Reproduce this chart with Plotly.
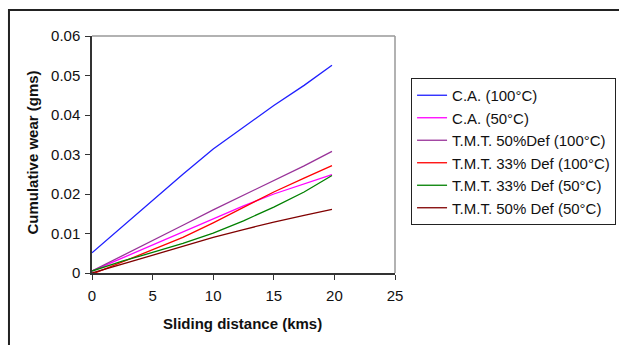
import plotly.graph_objects as go

# Sliding distance (kms)
distance = [0, 2.5, 5, 7.5, 10, 12.5, 15, 17.5, 19.8]

# Cumulative wear (gms)
ca_100 = [0.0051, 0.0118, 0.0183, 0.0250, 0.0314, 0.0370, 0.0424, 0.0475, 0.0526]
ca_50 = [0.0005, 0.0038, 0.0071, 0.0105, 0.0138, 0.0170, 0.0200, 0.0226, 0.0249]
tmt50_100 = [0.0005, 0.0043, 0.0082, 0.0121, 0.0160, 0.0197, 0.0233, 0.0271, 0.0308]
tmt33_100 = [-0.0003, 0.0028, 0.0057, 0.0090, 0.0127, 0.0166, 0.0205, 0.0240, 0.0272]
tmt33_50 = [0.0005, 0.0030, 0.0052, 0.0075, 0.0101, 0.0132, 0.0167, 0.0205, 0.0247]
tmt50_50 = [0.0000, 0.0023, 0.0045, 0.0068, 0.0090, 0.0110, 0.0129, 0.0146, 0.0161]

series_names = ["C.A. (100°C)", "C.A. (50°C)", "T.M.T. 50%Def (100°C)",
                "T.M.T. 33% Def (100°C)", "T.M.T. 33% Def (50°C)", "T.M.T. 50% Def (50°C)"]
series_values = [ca_100, ca_50, tmt50_100, tmt33_100, tmt33_50, tmt50_50]
series_colors = ["#1f1fff", "#ff00ff", "#993399", "#ff0000", "#008000", "#800000"]

x_ticks = [0, 5, 10, 15, 20, 25]
y_ticks = [0, 0.01, 0.02, 0.03, 0.04, 0.05, 0.06]
y_tick_text = ["0", "0.01", "0.02", "0.03", "0.04", "0.05", "0.06"]

FONT = "Liberation Sans, Arial, sans-serif"

fig = go.Figure()
for name, vals, col in zip(series_names, series_values, series_colors):
    fig.add_trace(go.Scatter(x=distance, y=vals, mode="lines", name=name,
                             line=dict(color=col, width=1.3)))

fig.update_layout(
    width=619, height=345,
    margin=dict(l=92, r=224, t=36, b=72, autoexpand=False),
    paper_bgcolor="white", plot_bgcolor="white",
    font=dict(family=FONT, size=15, color="#111111"),
    showlegend=True,
    legend=dict(x=1.053, y=0.8228, xanchor="left", yanchor="top",
                bordercolor="#222222", borderwidth=1, bgcolor="white",
                font=dict(family=FONT, size=15, color="#111111"),
                itemwidth=30, tracegroupgap=0),
    xaxis=dict(range=[0, 25], tickvals=x_ticks, showgrid=False, zeroline=False,
               showline=True, linecolor="#333333", linewidth=1.5,
               ticks="outside", ticklen=5, tickcolor="#333333",
               ticklabelstandoff=3, tickfont=dict(size=15)),
    yaxis=dict(range=[0, 0.06], tickvals=y_ticks, ticktext=y_tick_text,
               showgrid=False, zeroline=False,
               showline=True, linecolor="#333333", linewidth=1.5,
               ticks="outside", ticklen=5, tickcolor="#333333",
               ticklabelstandoff=2, tickfont=dict(size=15)),
    shapes=[
        dict(type="line", xref="paper", yref="paper", x0=0, x1=1, y0=1, y1=1,
             line=dict(color="#999999", width=1.5), layer="below"),
        dict(type="line", xref="paper", yref="paper", x0=1, x1=1, y0=0, y1=1,
             line=dict(color="#999999", width=1.5), layer="below"),
        dict(type="rect", xref="paper", yref="paper", x0=-0.274, x1=2.0, y0=-0.6, y1=1.1097,
             line=dict(color="#222222", width=2), fillcolor="rgba(0,0,0,0)"),
    ],
    annotations=[
        dict(text="<b>Sliding distance (kms)</b>", xref="paper", yref="paper",
             x=0.4967, y=-0.211, xanchor="center", yanchor="middle", showarrow=False,
             font=dict(family=FONT, size=15, color="#111111")),
        dict(text="<b>Cumulative wear (gms)</b>", xref="paper", yref="paper",
             x=-0.1947, y=0.508, xanchor="center", yanchor="middle", showarrow=False,
             textangle=-90, font=dict(family=FONT, size=15, color="#111111")),
    ],
)

fig.write_html("out.html")
